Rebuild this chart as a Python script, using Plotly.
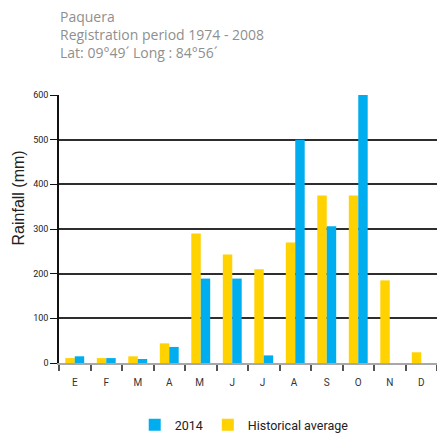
import plotly.graph_objects as go

# Monthly rainfall, Paquera station (Spanish month initials)
months = ["E", "F", "M", "A", "M ", "J", "J ", "A ", "S", "O", "N", "D"]
rain_2014 = [15, 11, 9, 36, 189, 189, 17, 500, 306, 600, 0, 0]
rain_hist = [11, 11, 15, 44, 290, 243, 210, 270, 375, 375, 185, 24]

header = "Paquera<br>Registration period 1974 - 2008<br>Lat: 09°49´ Long : 84°56´"

cond = "Roboto, sans-serif"

fig = go.Figure()

# historical first so it sits on the left of each pair
fig.add_trace(go.Bar(x=months, y=rain_hist, name="Historical average",
                     marker=dict(color="#FFD200", line=dict(width=0))))
fig.add_trace(go.Bar(x=months, y=rain_2014, name="2014",
                     marker=dict(color="#00AEEF", line=dict(width=0))))

fig.add_annotation(text=header, xref="paper", yref="paper", x=-0.003, y=1.335,
                   xanchor="left", yanchor="top", align="left", showarrow=False,
                   font=dict(family="Open Sans, sans-serif", size=14, color="#8f8f8f"))

# y title sits above the plot's middle in the original, so place it by hand
fig.add_annotation(text="Rainfall (mm)", xref="paper", yref="paper", x=-0.107, y=0.616,
                   xanchor="center", yanchor="middle", textangle=-90, showarrow=False,
                   font=dict(family="Liberation Sans, Arial, sans-serif", size=16, color="#222"))

fig.update_layout(
    width=437, height=433,
    margin=dict(l=59, r=0, t=95, b=70),
    paper_bgcolor="white", plot_bgcolor="white",
    barmode="group", bargap=0.4, bargroupgap=0,
    legend=dict(orientation="h", traceorder="reversed", x=0.49, xanchor="center",
                yref="container", y=0.018, yanchor="middle",
                font=dict(family=cond, size=12.5, color="#222"), itemwidth=30),
    showlegend=True,
)

fig.update_xaxes(
    type="category", tickson="boundaries", ticks="outside", ticklen=6,
    tickcolor="#555", tickwidth=1.5, automargin=False,
    showline=True, linecolor="#a8a8a8", linewidth=2,
    showgrid=False, range=[-0.5, 11.5], ticklabelstandoff=9,
    tickfont=dict(family=cond, size=10, color="#333"),
)

fig.update_yaxes(
    range=[0, 600], dtick=100, tick0=0, automargin=False,
    showgrid=True, gridcolor="#2e2e2e", gridwidth=1.5,
    zeroline=False,
    showline=True, linecolor="#111", linewidth=1.5,
    ticks="outside", ticklen=7, tickcolor="#111", tickwidth=1,
    tickfont=dict(family=cond, size=9, color="#222"),
)

# the page body has a default 8px margin; drop it so the figure sits at the corner
fig.write_html("out.html", config={"displayModeBar": False},
               post_script="document.body.style.margin='0';")
